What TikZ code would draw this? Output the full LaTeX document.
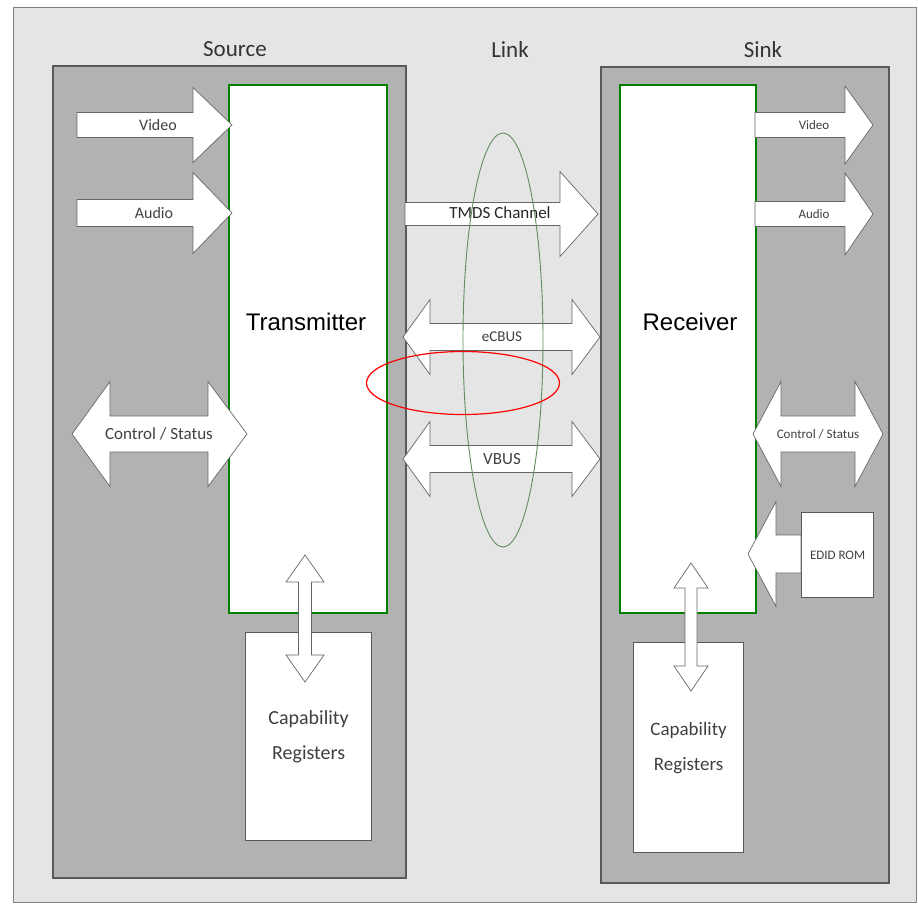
\documentclass[tikz,border=0pt]{standalone}
\usepackage{fontspec}
\setmainfont{Carlito}
\newfontfamily\arialfont{Liberation Sans}
\usetikzlibrary{shapes.geometric, positioning}

\definecolor{ringgreen}{RGB}{98,140,98}

% block arrows: tail, shoulder, tip, y, half shaft, half head
\newcommand{\fatarrow}[6]{%
  \draw[blockarrow] (#1,#4-#5) -- (#2,#4-#5) -- (#2,#4-#6) -- (#3,#4) -- (#2,#4+#6) -- (#2,#4+#5) -- (#1,#4+#5) -- cycle;}
% left tip, left shoulder, right shoulder, right tip, y, half shaft, half head
\newcommand{\fatdouble}[7]{%
  \draw[blockarrow] (#1,#5) -- (#2,#5-#7) -- (#2,#5-#6) -- (#3,#5-#6) -- (#3,#5-#7) -- (#4,#5) -- (#3,#5+#7) -- (#3,#5+#6) -- (#2,#5+#6) -- (#2,#5+#7) -- cycle;}
% x, top tip, top shoulder, bottom shoulder, bottom tip, half shaft, half head
\newcommand{\fatvdouble}[7]{%
  \draw[blockarrow] (#1,#2) -- (#1+#7,#3) -- (#1+#6,#3) -- (#1+#6,#4) -- (#1+#7,#4) -- (#1,#5) -- (#1-#7,#4) -- (#1-#6,#4) -- (#1-#6,#3) -- (#1-#7,#3) -- cycle;}

\begin{document}
\begin{tikzpicture}[
        x=1pt, y=-1pt,
        frame/.style={rectangle, draw=black!50, line width=1.2pt, fill=black!10, inner sep=0pt, anchor=north west},
        panel/.style={rectangle, draw=black!65, line width=1.5pt, fill=black!30, inner sep=0pt, anchor=north west},
        chip/.style={rectangle, draw=green!50!black, line width=1.6pt, fill=white, inner sep=0pt, anchor=north west},
        regbox/.style={rectangle, draw=black!65, line width=1.2pt, fill=white, inner sep=0pt, anchor=north west, align=center, text=black!75},
        blockarrow/.style={draw=black!60, line width=0.7pt, fill=white, line join=miter},
        title/.style={font=\fontsize{23}{26}\selectfont, text=black!80, inner sep=0pt},
        chiptext/.style={font=\arialfont\fontsize{24}{28}\selectfont, inner sep=0pt},
        tag/.style={font=\fontsize{16}{18}\selectfont, text=black!75, inner sep=0pt},
        smalltag/.style={font=\fontsize{13}{15}\selectfont, text=black!75, inner sep=0pt},
    ]
        \useasboundingbox (0,0) rectangle (918,906);

        % Background and the two sides
        \node (frame) [frame, minimum width=903pt, minimum height=895pt] at (13,7) {};
        \node (source) [panel, minimum width=353pt, minimum height=812pt] at (52,65) {};
        \node (sink) [panel, minimum width=288pt, minimum height=816pt] at (600,66) {};

        \node (srctitle) [title, above=8pt of source.north west, xshift=183pt] {Source};
        \node (sinktitle) [title, above=8pt of sink.north west, xshift=163pt] {Sink};
        \node (linktitle) [title] at (510,50) {Link};

        % Transmitter and receiver
        \node (tx) [chip, minimum width=158pt, minimum height=528pt] at (228,84) {};
        \node (rx) [chip, minimum width=136pt, minimum height=528pt] at (619,84) {};
        \node (txlabel) [chiptext] at (306,322) {Transmitter};
        \node (rxlabel) [chiptext] at (690,322) {Receiver};

        % Register and ROM boxes
        \node (srccap) [regbox, minimum width=126pt, minimum height=208pt, font=\fontsize{20}{35}\selectfont] at (245,632) {Capability\\Registers};
        \node (sinkcap) [regbox, minimum width=110pt, minimum height=210pt, font=\fontsize{19}{35}\selectfont] at (633,642) {Capability\\Registers};
        \node (edid) [regbox, minimum width=72pt, minimum height=85pt, font=\fontsize{13}{15}\selectfont] at (801,512) {EDID ROM};

        % Source side arrows
        \fatarrow{77}{193}{232}{125}{12.5}{37.5}
        \fatarrow{77}{193}{232}{213}{13.5}{40.5}
        \fatdouble{72}{110}{208}{247}{434}{18}{52.5}
        \fatvdouble{305}{555}{582}{655}{682}{6.5}{19}

        % Link arrows
        \fatarrow{405}{560}{598}{214}{11.5}{42.5}
        \fatdouble{403}{430}{572}{600}{337}{13.5}{37.5}
        \fatdouble{403}{430}{572}{600}{459}{13.5}{37.5}

        % Sink side arrows
        \fatarrow{755}{845}{873}{125}{12.5}{39}
        \fatarrow{755}{845}{873}{214}{12.5}{41}
        \fatdouble{753}{781}{855}{883}{434}{18}{52.5}
        \fatarrow{801}{776}{748}{554}{19}{52.5}
        \fatvdouble{691}{563}{588}{666}{691}{6}{17}

        % Arrow labels
        \node (srcvideo) [tag] at (158,125) {Video};
        \node (srcaudio) [tag] at (154,213) {Audio};
        \node (srcctrl) [tag, font=\fontsize{17}{19}\selectfont] at (159,434) {Control / Status};
        \node (tmds) [tag, font=\fontsize{17}{19}\selectfont, text=black!85] at (500,213) {TMDS Channel};
        \node (ecbus) [tag, font=\fontsize{15}{17}\selectfont] at (502,337) {eCBUS};
        \node (vbus) [tag, font=\fontsize{17}{19}\selectfont] at (502,459) {VBUS};
        \node (sinkvideo) [smalltag] at (814,125) {Video};
        \node (sinkaudio) [smalltag] at (814,214) {Audio};
        \node (sinkctrl) [smalltag] at (818,434) {Control / Status};

        % Rings
        \node (busring) [ellipse, draw=ringgreen, line width=0.9pt, inner sep=0pt, minimum width=80pt, minimum height=414pt] at (503,340) {};
        \node (cbusmark) [ellipse, draw=red, line width=1.2pt, inner sep=0pt, minimum width=193pt, minimum height=63pt] at (463,383) {};
    \end{tikzpicture}
\end{document}
